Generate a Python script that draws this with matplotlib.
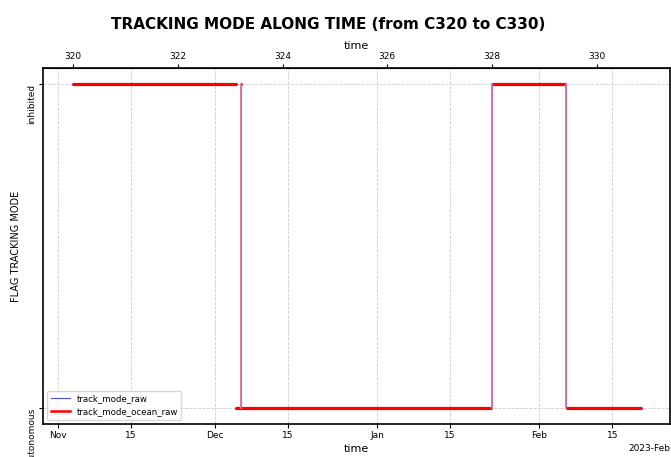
import matplotlib
matplotlib.use("Agg")
import matplotlib.pyplot as plt
import matplotlib.dates as mdates
from matplotlib.ticker import MultipleLocator
import numpy as np
import pandas as pd

# constant stretches of tracking mode (0 = autonomous, 1 = inhibited)
seg_start = ["2022-11-03 14:00", "2022-12-06 00:00", "2022-12-04 19:00", "2023-01-23 00:00", "2023-02-06 02:00"]
seg_end = ["2022-12-05 04:00", "2022-12-06 04:00", "2023-01-23 00:00", "2023-02-06 02:00", "2023-02-20 14:00"]
seg_mode = [1, 1, 0, 1, 0]

# mode switches
jump_t = ["2022-12-06 02:00", "2023-01-23 00:00", "2023-02-06 02:00"]
jump_from = [1, 0, 1]
jump_to = [0, 1, 0]

# cycle reference for the top axis
cycle_ref = 320
cycle_ref_date = "2022-11-03 20:40"
cycle_days = 10.02

mode_labels = ["autonomous", "inhibited"]

t0 = mdates.date2num(pd.Timestamp(cycle_ref_date))


def date2cycle(x):
    return cycle_ref + (np.asarray(x) - t0) / cycle_days


def cycle2date(c):
    return t0 + (np.asarray(c) - cycle_ref) * cycle_days


fig = plt.figure(figsize=(6.71, 4.57), dpi=100)
ax = fig.add_axes([43 / 671, 33 / 457, 627 / 671, 356 / 457])

starts = pd.to_datetime(seg_start)
ends = pd.to_datetime(seg_end)
jumps = pd.to_datetime(jump_t)

# track_mode_raw (thin, underneath)
for s, e, m in zip(starts, ends, seg_mode):
    ax.plot([s, e], [m, m], color="blue", lw=0.8, alpha=0.7)
for j, a, b in zip(jumps, jump_from, jump_to):
    ax.plot([j, j], [a, b], color="blue", lw=0.8, alpha=0.7)

# track_mode_ocean_raw
for s, e, m in zip(starts, ends, seg_mode):
    ax.plot([s, e], [m, m], color="red", lw=2.3, solid_capstyle="butt")
for j, a, b in zip(jumps, jump_from, jump_to):
    ax.plot([j, j], [a, b], color="#d9709c", lw=1.3)

ax.plot([], [], color="blue", lw=0.8, alpha=0.7, label="track_mode_raw")
ax.plot([], [], color="red", lw=1.8, label="track_mode_ocean_raw")
ax.legend(loc="lower left", fontsize=6.2, framealpha=0.8, handlelength=2.2,
          borderaxespad=0.5)

ax.set_yticks([0, 1])
ax.set_yticklabels(mode_labels, rotation=90, va="top", fontsize=6.5)
ax.set_ylabel("FLAG TRACKING MODE", fontsize=7, labelpad=4)

ax.xaxis.set_major_locator(mdates.DayLocator(bymonthday=[1, 15]))
ax.xaxis.set_major_formatter(mdates.ConciseDateFormatter(ax.xaxis.get_major_locator()))
ax.set_xlabel("time", fontsize=8, labelpad=3)
ax.tick_params(axis="both", labelsize=6.5, length=3, pad=2)
ax.xaxis.get_offset_text().set_fontsize(6.5)

ax.grid(True, ls="--", lw=0.6, color="#cccccc")
for sp in ax.spines.values():
    sp.set_linewidth(1.2)

top = ax.secondary_xaxis("top", functions=(date2cycle, cycle2date))
top.xaxis.set_major_locator(MultipleLocator(2))
top.tick_params(labelsize=6.5, length=3, pad=2)
top.set_xlabel("time", fontsize=8, labelpad=2)

fig.text(0.489, 0.946, "TRACKING MODE ALONG TIME (from C320 to C330)",
         ha="center", va="center", fontsize=11, fontweight="bold")

fig.savefig("out.png", dpi=100)
